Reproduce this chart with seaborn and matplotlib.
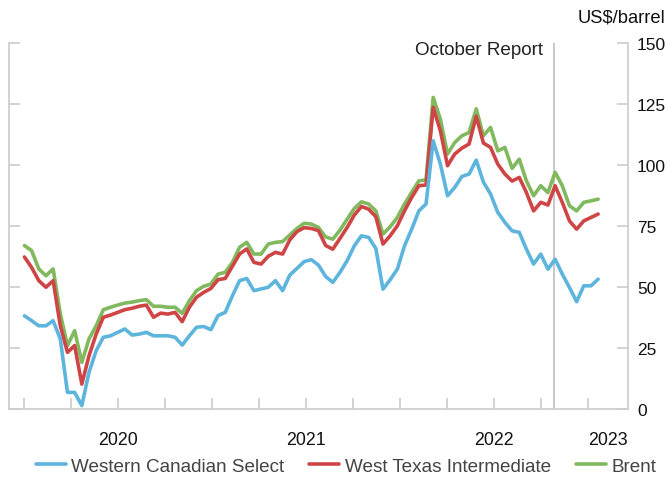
import matplotlib
matplotlib.use("Agg")
import matplotlib.pyplot as plt
import matplotlib.dates as mdates
import seaborn as sns
import pandas as pd
import numpy as np

sns.set_theme(style="white")
plt.rcParams['font.family'] = ['Liberation Sans', 'DejaVu Sans']

start_date = "2020-01-02"
end_date = "2023-01-20"

brent = [67.0, 64.9, 57.4, 54.6, 57.4, 39.0, 26.0, 32.1, 19.1, 28.7,
         34.1, 40.7, 41.7, 42.6, 43.4, 43.8, 44.4, 44.8, 42.1, 42.1,
         41.7, 41.7, 39.2, 44.4, 48.5, 50.3, 51.2, 55.3, 56.0, 60.1,
         66.3, 68.3, 63.5, 63.5, 67.6, 68.3, 68.6, 71.3, 74.0, 76.1,
         75.8, 74.4, 70.5, 69.6, 73.3, 77.8, 82.2, 84.9, 84.0, 81.2,
         71.7, 74.7, 78.5, 84.0, 88.8, 93.5, 93.9, 127.7, 118.8, 104.5,
         109.2, 112.0, 113.3, 123.0, 112.0, 115.4, 105.8, 107.2, 98.6, 102.4,
         93.5, 87.4, 91.5, 88.7, 97.0, 91.5, 83.3, 81.2, 84.7, 85.3, 86.0]

wti = [62.3, 58.0, 52.6, 49.9, 52.6, 34.1, 23.2, 26.0, 10.2, 21.8,
       30.7, 37.6, 38.5, 39.6, 40.7, 41.3, 42.1, 42.6, 37.6, 39.3,
       38.9, 39.6, 35.8, 41.7, 45.8, 47.8, 49.4, 53.0, 53.5, 58.5,
       63.5, 65.6, 60.1, 59.4, 62.6, 64.2, 63.5, 69.3, 72.7, 74.3,
       74.0, 73.1, 67.0, 65.5, 69.9, 74.4, 79.5, 83.0, 81.9, 78.8,
       67.6, 71.0, 75.1, 81.2, 86.7, 91.5, 91.8, 123.6, 114.0, 99.7,
       104.5, 106.9, 108.6, 120.0, 109.0, 107.2, 100.4, 96.3, 93.4, 94.9,
       88.7, 81.2, 84.7, 83.6, 91.5, 84.7, 77.1, 73.7, 77.1, 78.5, 79.9]

wcs = [38.2, 36.2, 34.1, 34.1, 36.2, 28.7, 6.8, 6.8, 1.4, 15.0,
       23.9, 29.4, 30.0, 31.4, 32.8, 30.3, 30.7, 31.4, 30.0, 30.0,
       30.0, 29.4, 26.2, 30.0, 33.5, 33.8, 32.5, 38.3, 39.6, 46.4,
       52.6, 53.5, 48.5, 49.2, 49.9, 52.6, 48.5, 54.9, 57.6, 60.4,
       61.2, 59.0, 54.3, 51.9, 56.0, 60.8, 66.9, 71.0, 70.3, 65.8,
       49.1, 53.0, 57.3, 66.9, 73.7, 81.2, 84.0, 109.9, 100.4, 87.4,
       90.8, 95.3, 96.3, 102.0, 93.0, 88.1, 80.6, 76.5, 73.0, 72.4,
       65.5, 59.4, 63.5, 57.3, 61.4, 55.3, 49.8, 44.0, 50.5, 50.5, 53.2]

series_names = ["Western Canadian Select", "West Texas Intermediate", "Brent"]
colors = {"Western Canadian Select": "#5db5de",
          "West Texas Intermediate": "#cf4545",
          "Brent": "#80b95e"}
year_labels = ["2020", "2021", "2022", "2023"]
year_label_dates = ["2020-07-01", "2021-07-02", "2022-07-02", "2023-02-08"]
report_date = "2022-10-26"

dates = pd.date_range(start_date, end_date, periods=len(brent))
df = pd.DataFrame({"date": dates,
                   "Western Canadian Select": wcs,
                   "West Texas Intermediate": wti,
                   "Brent": brent})
long = df.melt(id_vars="date", var_name="series", value_name="price")

fig = plt.figure(figsize=(6.68, 4.81), dpi=100)
ax = fig.add_axes([9/668, 1-410/481, (628-9)/668, (410-44)/481])

for name in ["Brent", "West Texas Intermediate", "Western Canadian Select"]:
    sns.lineplot(data=long[long.series == name], x="date", y="price",
                 color=colors[name], lw=2.6, ax=ax, label=name,
                 solid_joinstyle="round", solid_capstyle="round")

ax.axvline(pd.Timestamp(report_date), color="#c4c4c4", lw=1.3, zorder=0)
ax.text(pd.Timestamp(report_date) - pd.Timedelta(days=21), 147.3, "October Report",
        ha="right", va="center", fontsize=13.6, color="#222222")

ax.set_xlim(pd.Timestamp("2019-12-03"), pd.Timestamp("2023-03-19"))
ax.set_ylim(0, 150)
ax.set_xlabel("")
ax.set_ylabel("")

spine_c = "#cccccc"
for s in ["left", "right", "bottom"]:
    ax.spines[s].set_color(spine_c)
    ax.spines[s].set_linewidth(1.2)
ax.spines["top"].set_visible(False)

ax.yaxis.set_ticks_position("both")
ax.set_yticks([0, 25, 50, 75, 100, 125, 150])
ax.tick_params(axis="y", which="major", direction="in", length=8, width=1.2,
               color=spine_c, left=True, right=True, labelleft=False,
               labelright=True, labelsize=12.5, labelcolor="#111111", pad=6.5)

ax.xaxis.remove_overlapping_locs = False
ax.xaxis.set_major_locator(mdates.MonthLocator(bymonth=[1, 4, 7, 10]))
ax.xaxis.set_major_formatter(plt.NullFormatter())
ax.set_xticks([pd.Timestamp(d) for d in year_label_dates], minor=True)
ax.set_xticklabels(year_labels, minor=True)
ax.tick_params(axis="x", which="major", direction="in", length=8, width=1.2,
               color=spine_c, bottom=True, top=False)
ax.tick_params(axis="x", which="minor", length=0, pad=16, labelsize=12.8,
               labelcolor="#111111", bottom=True, top=False)
ax.grid(False)

fig.text(665/668, 1-18/481, "US$/barrel", ha="right", va="center",
         fontsize=13.2, color="#111111")

handles, labels = ax.get_legend_handles_labels()
order = [labels.index(n) for n in series_names]
ax.get_legend().remove()
fig.legend([handles[i] for i in order], [labels[i] for i in order],
           loc="center", bbox_to_anchor=(346/668, 1-467/481), ncol=3,
           frameon=False, fontsize=13.6, handlelength=1.6, handletextpad=0.3,
           columnspacing=1.3, labelcolor="#444444", borderaxespad=0)

fig.savefig("out.png", dpi=100)
